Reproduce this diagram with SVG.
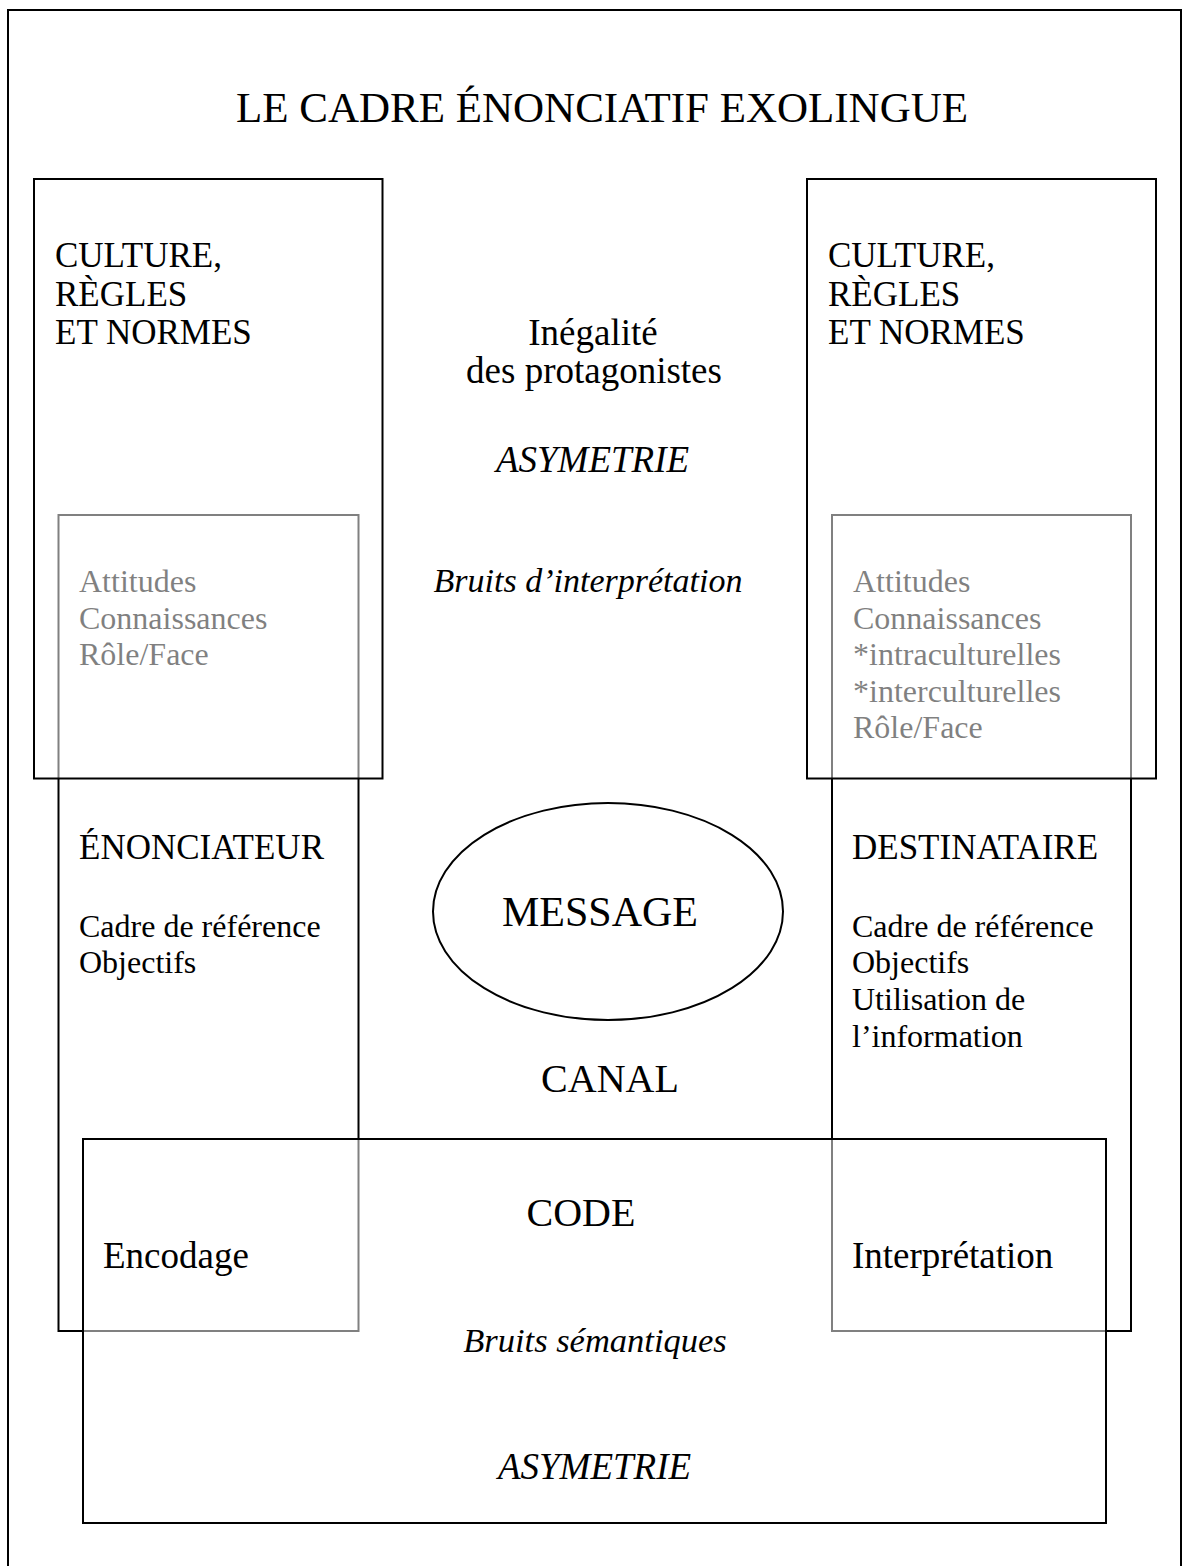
<svg xmlns="http://www.w3.org/2000/svg" width="1183" height="1566" viewBox="0 0 1183 1566">
  <style>
    text { font-family: "Liberation Serif", "Times New Roman", serif; fill: #000; }
    .frame { fill: none; stroke: #000; stroke-width: 2; }
    .veil { fill: #fff; fill-opacity: 0.5; stroke: #000; stroke-width: 2; }
    .title { font-size: 43px; text-anchor: middle; }
    .head { font-size: 35px; }
    .list { font-size: 32px; }
    .mid { font-size: 37px; text-anchor: middle; }
    .it { font-style: italic; }
    .big { font-size: 42px; text-anchor: middle; }
  </style>

  <!-- page frame -->
  <rect class="frame" x="8" y="10" width="1173" height="1570"/>
  <text class="title" x="602" y="122">LE CADRE ÉNONCIATIF EXOLINGUE</text>

  <!-- speaker column -->
  <g id="enonciateur">
    <rect class="frame" x="58.5" y="515" width="300" height="816"/>
    <text class="list" x="79" y="592">Attitudes</text>
    <text class="list" x="79" y="628.5">Connaissances</text>
    <text class="list" x="79" y="665">Rôle/Face</text>
    <text class="head" x="79" y="859">ÉNONCIATEUR</text>
    <text class="list" x="79" y="937">Cadre de référence</text>
    <text class="list" x="79" y="973">Objectifs</text>
  </g>

  <!-- addressee column -->
  <g id="destinataire">
    <rect class="frame" x="832" y="515" width="299" height="816"/>
    <text class="list" x="853" y="592">Attitudes</text>
    <text class="list" x="853" y="628.5">Connaissances</text>
    <text class="list" x="853" y="665">*intraculturelles</text>
    <text class="list" x="853" y="701.5">*interculturelles</text>
    <text class="list" x="853" y="738">Rôle/Face</text>
    <text class="head" x="852" y="859">DESTINATAIRE</text>
    <text class="list" x="852" y="937">Cadre de référence</text>
    <text class="list" x="852" y="973">Objectifs</text>
    <text class="list" x="852" y="1010">Utilisation de</text>
    <text class="list" x="852" y="1047">l’information</text>
  </g>

  <!-- culture frames, drawn over the columns with a half-white veil -->
  <g id="culture-gauche">
    <rect class="veil" x="34" y="179" width="348.5" height="599.5"/>
    <text class="head" x="55" y="267">CULTURE,</text>
    <text class="head" x="55" y="305.5">RÈGLES</text>
    <text class="head" x="55" y="344">ET NORMES</text>
  </g>
  <g id="culture-droite">
    <rect class="veil" x="807" y="179" width="349" height="599.5"/>
    <text class="head" x="828" y="267">CULTURE,</text>
    <text class="head" x="828" y="305.5">RÈGLES</text>
    <text class="head" x="828" y="344">ET NORMES</text>
  </g>

  <!-- code frame -->
  <g id="code">
    <rect class="veil" x="83" y="1139" width="1023" height="384"/>
    <text class="mid" x="581" y="1226" style="font-size:40px">CODE</text>
    <text class="mid" x="103" y="1268" style="text-anchor:start">Encodage</text>
    <text class="mid" x="852" y="1268" style="text-anchor:start">Interprétation</text>
    <text class="mid it" x="595" y="1352" style="font-size:34.5px">Bruits sémantiques</text>
    <text class="mid it" x="594.5" y="1479">ASYMETRIE</text>
  </g>

  <!-- centre labels -->
  <g id="asymetrie">
    <text class="mid" x="593" y="345">Inégalité</text>
    <text class="mid" x="594" y="383">des protagonistes</text>
    <text class="mid it" x="592.5" y="472">ASYMETRIE</text>
    <text class="mid it" x="588" y="592" style="font-size:34px">Bruits d’interprétation</text>
  </g>

  <g id="message">
    <ellipse class="frame" cx="608" cy="911.5" rx="175" ry="108.5"/>
    <text class="big" x="600" y="926">MESSAGE</text>
  </g>

  <g id="canal">
    <text class="mid" x="610" y="1092" style="font-size:40px">CANAL</text>
  </g>
</svg>
